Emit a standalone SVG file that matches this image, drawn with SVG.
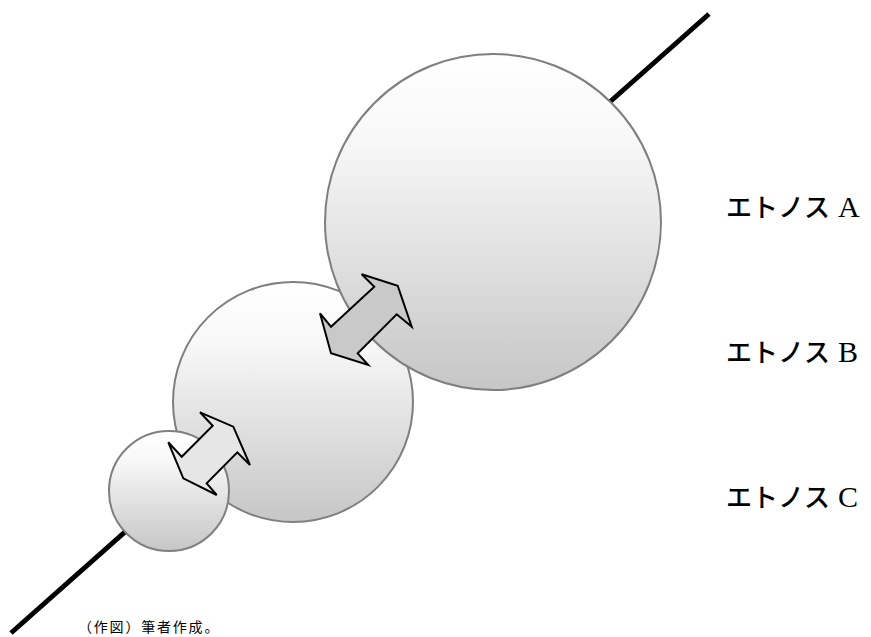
<svg xmlns="http://www.w3.org/2000/svg" width="871" height="637" viewBox="0 0 871 637">
<defs>
<linearGradient id="g" x1="0" y1="0" x2="0" y2="1">
<stop offset="0" stop-color="#ffffff"/>
<stop offset="0.25" stop-color="#f8f8f8"/>
<stop offset="1" stop-color="#c6c6c6"/>
</linearGradient>
<style>
.c{fill:url(#g);stroke:#7f7f7f;stroke-width:2}
.ar{stroke:#000;stroke-width:2;stroke-linejoin:miter}
.lb{font-family:"Noto Sans CJK JP","Liberation Sans",sans-serif;font-size:26px;font-weight:500;fill:#000}
.lt{font-family:"Liberation Serif",serif;font-size:30px;font-weight:400}
.cap{font-family:"Noto Sans CJK JP",sans-serif;font-size:14px;letter-spacing:1.8px;fill:#000}
</style>
</defs>
<g id="connectors">
<line x1="11" y1="633" x2="709" y2="14" stroke="#000" stroke-width="5"/>
</g>
<g id="ethnosB"><circle class="c" cx="293" cy="402" r="120"/></g>
<g id="ethnosA"><circle class="c" cx="493" cy="222" r="168"/></g>
<g id="ethnosC"><circle class="c" cx="169" cy="491" r="60"/></g>
<g id="arrowAB">
<polygon class="ar" fill="#c8c9c8" points="361.7,274.3 397.7,285.7 411.7,326.7 396.7,314.3 357.7,353.3 368.3,365 331,353.3 320,313.3 331,326.7 374.3,286.7"/>
</g>
<g id="arrowBC">
<polygon class="ar" fill="#e6e6e6" points="200,412.3 233.3,426.7 250,465 237.3,452.3 206.7,483.3 216.7,495 183.3,478.3 168.3,442.3 181.7,456.7 212.7,425.7"/>
</g>
<g id="labelA"><text class="lb" x="726" y="217">エトノス<tspan class="lt" x="838">A</tspan></text></g>
<g id="labelB"><text class="lb" x="726" y="362">エトノス<tspan class="lt" x="838">B</tspan></text></g>
<g id="labelC"><text class="lb" x="726" y="507">エトノス<tspan class="lt" x="838">C</tspan></text></g>
<g id="caption"><text class="cap" x="78" y="632">（作図）筆者作成。</text></g>
</svg>
